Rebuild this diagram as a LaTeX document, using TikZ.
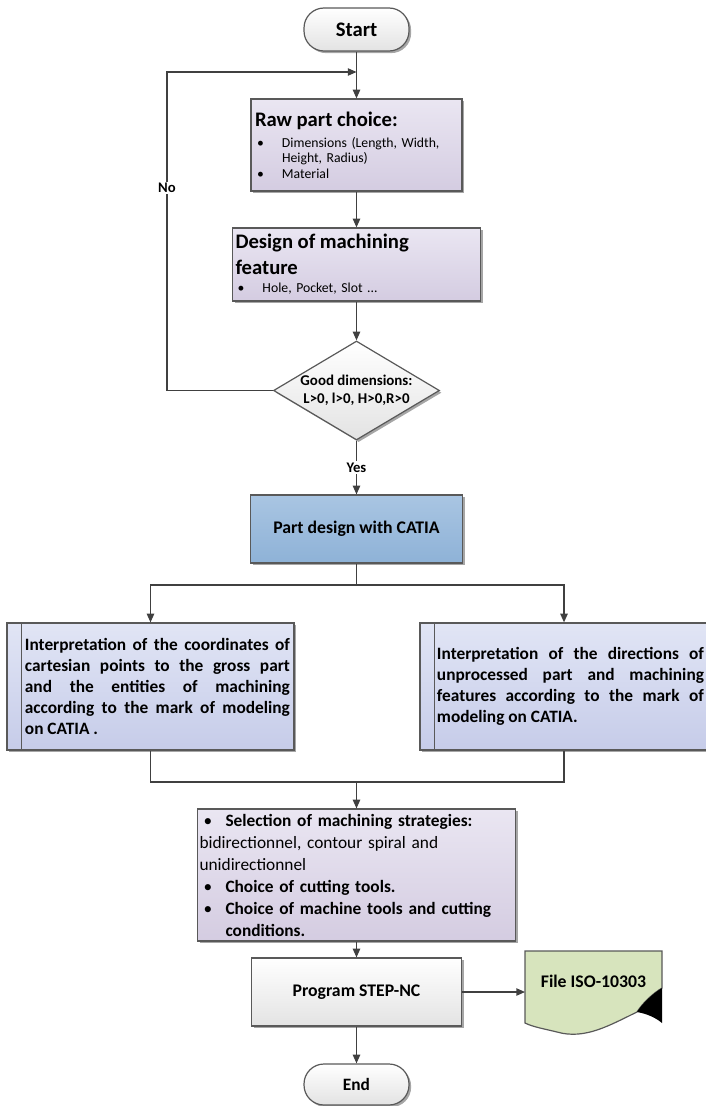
\documentclass[tikz,border=0pt]{standalone}
\usepackage{fontspec}
\setmainfont{Carlito}
\usepackage{xcolor}
\usepackage{tikz}
\usetikzlibrary{shapes.geometric,arrows.meta,shadows,positioning}

\definecolor{linegray}{HTML}{404040}
\definecolor{bordgray}{HTML}{595959}
\definecolor{lavtop}{HTML}{EAE6F2}
\definecolor{lavbot}{HTML}{D4CCE1}
\definecolor{bluetop}{HTML}{E1E5F5}
\definecolor{bluebot}{HTML}{C6CCE9}
\definecolor{steeltop}{HTML}{A9C5E2}
\definecolor{steelbot}{HTML}{8EB2D7}
\definecolor{graybot}{HTML}{E3E3E3}
\definecolor{docgreen}{HTML}{D7E4BD}

\begin{document}
\begin{tikzpicture}[x=0.75pt, y=-0.75pt,
        shade0/.style={drop shadow={shadow xshift=1.6pt, shadow yshift=-1.6pt, opacity=.35, fill=black}},
        termnode/.style={rectangle, rounded corners=15pt, draw=bordgray, line width=.9pt, top color=white, bottom color=graybot, shade0},
        listnode/.style={rectangle, draw=bordgray, line width=.9pt, top color=lavtop, bottom color=lavbot, shade0, align=left, inner xsep=2.25pt, font=\fontsize{10.3}{11.7}\selectfont},
        decnode/.style={diamond, shape aspect=1.68, draw=bordgray, line width=.9pt, top color=white, bottom color=graybot, shade0, inner sep=0pt, align=center, font=\fontsize{11.2}{13.5}\selectfont\bfseries},
        cadnode/.style={rectangle, draw=bordgray, line width=.9pt, top color=steeltop, bottom color=steelbot, shade0, font=\fontsize{13.3}{16}\selectfont\bfseries},
        interpnode/.style={rectangle, draw=bordgray, line width=.9pt, top color=bluetop, bottom color=bluebot, shade0, inner xsep=3pt, font=\fontsize{13}{15.75}\selectfont\bfseries},
        stepbox/.style={rectangle, draw=bordgray, line width=.9pt, top color=white, bottom color=graybot, shade0, font=\fontsize{13.3}{16}\selectfont\bfseries},
        lbl/.style={fill=white, inner sep=1pt, font=\fontsize{11}{13}\selectfont\bfseries},
        arr/.style={draw=linegray, line width=1pt, -{Triangle[length=6.5pt,width=5.5pt]}},
        wire/.style={draw=linegray, line width=1pt},
    ]
    \path[clip, use as bounding box] (0,0) rectangle (706,1106);
    %Nodes
    \node[termnode, font=\fontsize{15.5}{18}\selectfont\bfseries, minimum width=105*.75pt, minimum height=43*.75pt] (startnode) at (356.5,29.5) {Start};
    \node[listnode, minimum width=211*.75pt, minimum height=92*.75pt, text width=203*.75pt] (rawnode) at (356.5,145) {{\fontsize{15.5}{18}\selectfont\bfseries Raw part choice:}\\[4pt]
        \hspace*{1.5pt}\makebox[18.75pt][l]{\textbullet}Dimensions (Length, Width,\\
        \hspace*{20.25pt}Height, Radius)\\
        \hspace*{1.5pt}\makebox[18.75pt][l]{\textbullet}Material};
    \node[listnode, minimum width=248*.75pt, minimum height=73*.75pt, text width=242*.75pt] (designnode) at (356.5,264.5) {{\fontsize{15.5}{18}\selectfont\bfseries Design of machining\\[4.5pt]feature}\\[2.5pt]
        \hspace*{1.5pt}\makebox[18.75pt][l]{\textbullet}Hole, Pocket, Slot ...};
    \node[decnode, minimum width=166*.75pt, minimum height=99*.75pt] (checknode) at (356.5,390.5) {Good dimensions:\\L>0, l>0, H>0,R>0};
    \node[cadnode, minimum width=212*.75pt, minimum height=68*.75pt] (partnode) at (356.5,529) {Part design with CATIA};
    \node[interpnode, minimum width=287*.75pt, minimum height=127*.75pt] (leftnode) at (150.5,686.5) {\hspace*{10.4pt}\parbox{198.75pt}{Interpretation of the coordinates of\linebreak cartesian points to the gross part\linebreak and the entities of machining\linebreak according to the mark of modeling\linebreak on CATIA .}};
    \node[interpnode, minimum width=288*.75pt, minimum height=127*.75pt] (rightnode) at (564,686.5) {\hspace*{9.7pt}\parbox{200.25pt}{Interpretation of the directions of\linebreak unprocessed part and machining\linebreak features according to the mark of\linebreak modeling on CATIA.}};
    \node[listnode, minimum width=318*.75pt, minimum height=132*.75pt, text width=314*.75pt, inner xsep=1.5pt, inner ysep=1pt, font=\fontsize{13}{16.5}\selectfont] (selectnode) at (356.5,875) {\hspace*{3pt}\makebox[16.5pt][l]{\textbullet}\textbf{Selection of machining strategies:}\\
        bidirectionnel, contour spiral and\\
        unidirectionnel\\
        \hspace*{3pt}\makebox[16.5pt][l]{\textbullet}\textbf{Choice of cutting tools.}\\
        \hspace*{3pt}\makebox[16.5pt][l]{\textbullet}\textbf{Choice of machine tools and cutting}\\
        \hspace*{19.5pt}\textbf{conditions.}};
    \node[stepbox, minimum width=210*.75pt, minimum height=68*.75pt] (prognode) at (356.5,992) {Program STEP-NC};
    % document shape
    \filldraw[draw=bordgray, line width=.9pt, fill=docgreen] (525,951) -- (662,951) -- (662,988) .. controls (652,994) and (642,1004) .. (637,1012) .. controls (610,1025) and (585,1040) .. (557,1032) .. controls (545,1029) and (533,1027) .. (525,1023) -- cycle;
    \fill[black] (662,988) .. controls (652,994) and (642,1004) .. (637,1012) .. controls (648,1014) and (656,1018) .. (662,1023) -- cycle;
    \node[font=\fontsize{13.3}{16}\selectfont\bfseries] (filenode) at (593.5,981) {File ISO-10303};
    \node[termnode, font=\fontsize{13}{16}\selectfont\bfseries, minimum width=105*.75pt, minimum height=41*.75pt] (endnode) at (356.5,1084.5) {End};
    \coordinate (loopin) at (356.5,72);
    \coordinate (loopcorner) at (167,72);
    \coordinate (split) at (356.5,585);
    \coordinate (merge) at (356.5,782);
    \coordinate (filein) at (525,992);
    %Lines
    \draw[arr] (startnode) -- (rawnode);
    \draw[arr] (rawnode) -- (designnode);
    \draw[arr] (designnode) -- (checknode);
    \draw[arr] (checknode) -- node[lbl] (yesnode) {Yes} (partnode);
    \draw[arr] (checknode.west) -| (loopcorner) -- (loopin);
    \node[lbl] (nonode) at (167,188) {No};
    \draw[wire] (partnode) -- (split);
    \draw[arr] (split) -| (leftnode.north);
    \draw[arr] (split) -| (rightnode.north);
    \draw[wire] (leftnode.south) |- (merge);
    \draw[wire] (rightnode.south) |- (merge);
    \draw[arr] (merge) -- (selectnode);
    \draw[arr] (selectnode) -- (prognode);
    \draw[arr] (prognode) -- (filein);
    \draw[arr] (prognode) -- (endnode);
    \draw[draw=bordgray, line width=.9pt] ([xshift=11.25pt]leftnode.north west) -- ([xshift=11.25pt]leftnode.south west);
    \draw[draw=bordgray, line width=.9pt] ([xshift=11.25pt]rightnode.north west) -- ([xshift=11.25pt]rightnode.south west);
\end{tikzpicture}
\end{document}
